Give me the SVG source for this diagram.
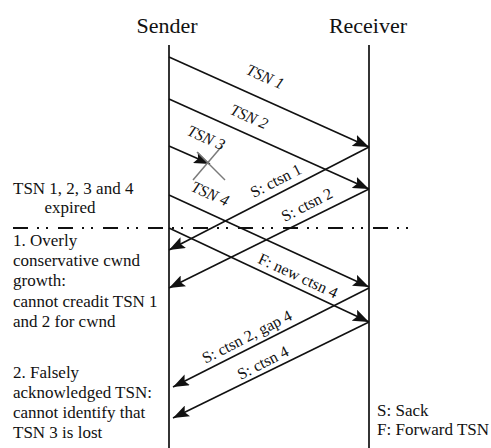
<svg xmlns="http://www.w3.org/2000/svg" width="491" height="448" viewBox="0 0 491 448">
  <style>
    .hdr { font-family: "Liberation Serif", "Times New Roman", serif; font-size: 22px; fill: #111; text-anchor: middle; }
    .note { font-family: "Liberation Serif", "Times New Roman", serif; font-size: 17px; fill: #111; }
    .lbl { font-family: "Liberation Serif", "Times New Roman", serif; font-size: 16px; fill: #111; text-anchor: middle; }
    .tsn { font-style: italic; }
    .life { stroke: #111; stroke-width: 1.7; fill: none; }
    .msg { stroke: #111; stroke-width: 1.6; fill: none; marker-end: url(#head); }
    .cut { stroke: #111; stroke-width: 2.2; fill: none; stroke-dasharray: 15 9 2 7 2 10; }
    .lost { stroke: #7a7a7a; stroke-width: 1.5; fill: none; }
  </style>
  <defs>
    <marker id="head" viewBox="0 0 16 12" refX="16" refY="6" markerWidth="16" markerHeight="12" markerUnits="userSpaceOnUse" orient="auto">
      <path d="M0,0 L16,6 L0,12 L3,6 Z" fill="#111"/>
    </marker>
  </defs>
  <rect width="491" height="448" fill="#fff"/>

  <!-- endpoints -->
  <g id="sender">
    <text class="hdr" x="167" y="33">Sender</text>
    <line class="life" x1="169" y1="45" x2="169" y2="448"/>
  </g>
  <g id="receiver">
    <text class="hdr" x="368" y="33">Receiver</text>
    <line class="life" x1="369" y1="45" x2="369" y2="448"/>
  </g>

  <!-- messages between sender and receiver -->
  <g id="connectors">
    <line class="msg" x1="169" y1="57" x2="369" y2="147"/>
    <line class="msg" x1="169" y1="99" x2="369" y2="189"/>
    <line class="msg" x1="169" y1="146" x2="210" y2="164"/>
    <line class="msg" x1="169" y1="195" x2="369" y2="287"/>
    <line class="msg" x1="369" y1="147" x2="169" y2="250"/>
    <line class="msg" x1="369" y1="189" x2="169" y2="288"/>
    <line class="msg" x1="169" y1="228" x2="369" y2="322"/>
    <line class="msg" x1="369" y1="288" x2="173" y2="387"/>
    <line class="msg" x1="369" y1="322" x2="173" y2="418"/>
    <!-- loss mark on TSN 3 -->
    <line class="lost" x1="197" y1="152" x2="225" y2="180"/>
    <line class="lost" x1="193" y1="180" x2="222" y2="146"/>
    <!-- timeout separator -->
    <line class="cut" x1="13" y1="228" x2="415" y2="228"/>
  </g>

  <!-- message labels -->
  <g id="labels">
    <text class="lbl tsn" transform="translate(265,77) rotate(24)" y="5">TSN 1</text>
    <text class="lbl tsn" transform="translate(249,117) rotate(24)" y="5">TSN 2</text>
    <text class="lbl tsn" transform="translate(206,138) rotate(24)" y="5">TSN 3</text>
    <text class="lbl tsn" transform="translate(210,194) rotate(24)" y="5">TSN 4</text>
    <text class="lbl" transform="translate(276,181) rotate(-27)" y="5">S: ctsn 1</text>
    <text class="lbl" transform="translate(307,205) rotate(-27)" y="5">S: ctsn 2</text>
    <text class="lbl" transform="translate(298,276) rotate(25)" y="5">F: new ctsn 4</text>
    <text class="lbl" transform="translate(247,337) rotate(-27)" y="5">S: ctsn 2, gap 4</text>
    <text class="lbl" transform="translate(263,363) rotate(-27)" y="5">S: ctsn 4</text>
  </g>

  <!-- side notes -->
  <g id="expired-note">
    <text class="note" x="13" y="194">TSN 1, 2, 3 and 4</text>
    <text class="note" x="70" y="213" text-anchor="middle">expired</text>
  </g>
  <g id="problem-1">
    <text class="note" x="13" y="246">1. Overly</text>
    <text class="note" x="13" y="266">conservative cwnd</text>
    <text class="note" x="13" y="286">growth:</text>
    <text class="note" x="13" y="307">cannot creadit TSN 1</text>
    <text class="note" x="13" y="327">and 2 for cwnd</text>
  </g>
  <g id="problem-2">
    <text class="note" x="13" y="378">2. Falsely</text>
    <text class="note" x="13" y="398">acknowledged TSN:</text>
    <text class="note" x="13" y="418">cannot identify that</text>
    <text class="note" x="13" y="438">TSN 3 is lost</text>
  </g>
  <g id="legend">
    <text class="note" x="377" y="416">S: Sack</text>
    <text class="note" x="377" y="435">F: Forward TSN</text>
  </g>
</svg>
